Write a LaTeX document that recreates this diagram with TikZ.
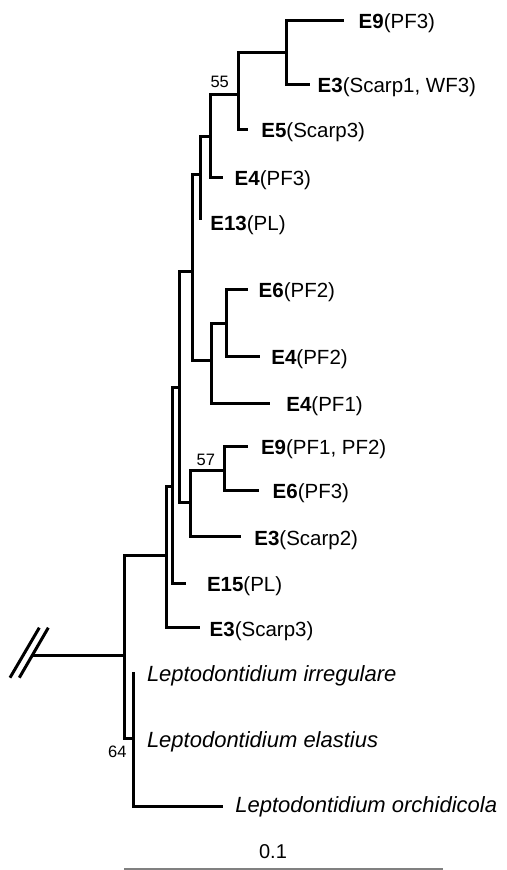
\documentclass[tikz,border=0pt]{standalone}
\usepackage{fontspec}
\setmainfont{Liberation Sans}
\usetikzlibrary{positioning}

\begin{document}
\begin{tikzpicture}
  [
    x=1pt, y=-1pt,
    branch/.style = {line width=3pt, line join=miter},
    tip/.style    = {anchor=base west, inner sep=0pt, font=\fontsize{20.5}{24}\selectfont},
    taxon/.style  = {anchor=base west, inner sep=0pt, font=\fontsize{22}{26}\selectfont\itshape},
    boot/.style   = {anchor=base, inner sep=0pt, font=\fontsize{16.5}{20}\selectfont},
  ]

\useasboundingbox (0,0) rectangle (506,870);

%Branch ends of the tips
\foreach \nm/\x/\y in {t1/344/20.5, t2/310/84.5, t3/248/129.5, t4/223/177.5,
                       t5/200.5/219.5, t6/248.3/289.5, t7/260/356.5, t8/270/403.5,
                       t9/247.7/446.5, t10/259.3/490.5, t11/240.7/536.5, t12/186/583.5,
                       t13/200/627.5, t14/133.5/672, t16/223.3/806.5}
{
\coordinate (\nm) at (\x,\y);
}

%Internal nodes, at the height where they hang from their parent
\foreach \nm/\x/\y in {n1/286.5/52.5, n2/238.5/94.5, n3/210.5/136.5, n4/200.5/174.5,
                       n5/226.5/323.5, n6/211.5/360.5, n7/192.5/271.5, n8/224.5/470.5,
                       n9/190.5/502.5, n10/179.5/387.5, n11/172.5/486.5, n12/166.5/555.5,
                       n13/133.5/738.5, n14/124.5/655.5}
{
\coordinate (\nm) at (\x,\y);
}
\coordinate (root) at (33.3,655.5);

%Branches
\foreach \p/\c in {n1/t1, n1/t2, n2/n1, n2/t3, n3/n2, n3/t4, n4/n3, n4/t5,
                   n5/t6, n5/t7, n6/n5, n6/t8, n7/n4, n7/n6, n8/t9, n8/t10,
                   n9/n8, n9/t11, n10/n7, n10/n9, n11/n10, n11/t12, n12/n11,
                   n12/t13, n13/t14, n13/t16, n14/n12, n14/n13}
{
\draw[branch] (\p) |- (\c);
}
\draw[branch] (root) -- (n14);

%Break marks on the root
\coordinate (s1a) at (10,677.7);
\coordinate (s1b) at (39.3,627.7);
\coordinate (s2a) at (19.3,677.7);
\coordinate (s2b) at (48.3,627.7);
\draw[branch] (s1a) -- (s1b);
\draw[branch] (s2a) -- (s2b);

%Tip labels
\foreach \nm/\x/\y/\lab in {l1/358.5/28.3/{\textbf{E9}(PF3)},
                            l2/317.5/92.3/{\textbf{E3}(Scarp1, WF3)},
                            l3/261.2/137.6/{\textbf{E5}(Scarp3)},
                            l4/234.5/185.3/{\textbf{E4}(PF3)},
                            l5/210.2/230/{\textbf{E13}(PL)},
                            l6/258.5/297.8/{\textbf{E6}(PF2)},
                            l7/271.2/364.7/{\textbf{E4}(PF2)},
                            l8/286.2/411.3/{\textbf{E4}(PF1)},
                            l9/260.8/454.3/{\textbf{E9}(PF1, PF2)},
                            l10/272.5/498.3/{\textbf{E6}(PF3)},
                            l11/254.2/545/{\textbf{E3}(Scarp2)},
                            l12/206.8/591.3/{\textbf{E15}(PL)},
                            l13/209.5/636/{\textbf{E3}(Scarp3)}}
{
\node[tip] (\nm) at (\x,\y) {\lab};
}

\node[taxon] (l14) at (146.8,681.7) {Leptodontidium irregulare};
\node[taxon] (l15) at (146.8,747.3) {Leptodontidium elastius};
\node[taxon] (l16) at (235.2,812.7) {Leptodontidium orchidicola};

%Bootstrap values
\node[boot] (b55) at (219.7,87.3) {55};
\node[boot] (b57) at (205.8,465) {57};
\node[boot] (b64) at (117.3,757.3) {64};

%Scale bar
\coordinate (sb1) at (124,868.8);
\coordinate (sb2) at (443.3,868.8);
\draw[gray, line width=1.4pt] (sb1) -- (sb2);
\node[anchor=base, inner sep=0pt, font=\fontsize{20}{24}\selectfont] (scale) at (273,858.5) {0.1};
\end{tikzpicture}
\end{document}
